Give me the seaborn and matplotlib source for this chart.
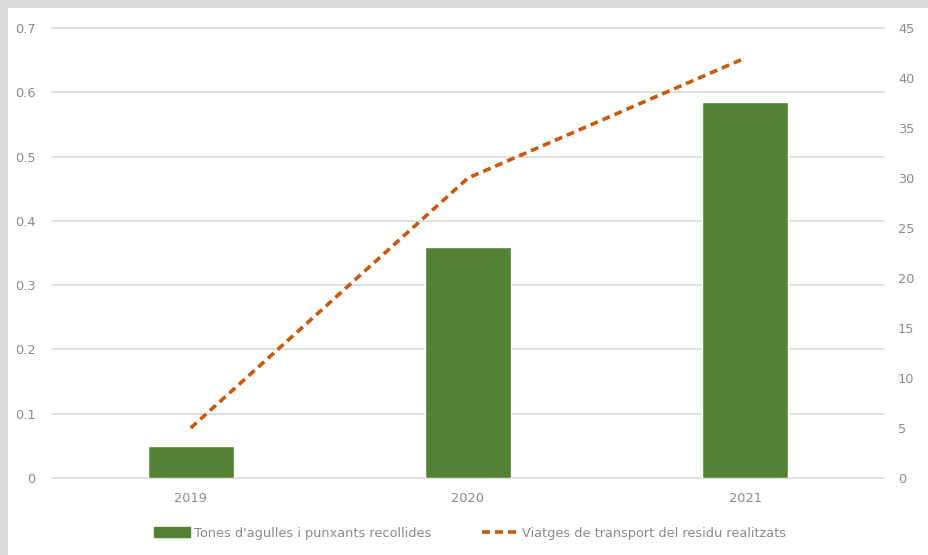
import pandas as pd
import seaborn as sns
import matplotlib.pyplot as plt
from matplotlib.patches import Rectangle
from matplotlib.lines import Line2D

years = ["2019", "2020", "2021"]
tones = [0.05, 0.36, 0.585]
viatges = [5, 30, 42]
bar_label = "Tones d'agulles i punxants recollides"
line_label = "Viatges de transport del residu realitzats"

df = pd.DataFrame({"any": years, "tones": tones, "viatges": viatges})

sns.set_style("white")
plt.rcParams["font.family"] = ["DejaVu Sans"]

fig = plt.figure(figsize=(9.29, 5.55), dpi=100)
fig.patch.set_facecolor("white")
# gray strip on top and left
fig.patches.append(Rectangle((0, 1 - 8 / 555), 1, 8 / 555, transform=fig.transFigure,
                             facecolor="#d9d9d9", edgecolor="none"))
fig.patches.append(Rectangle((0, 0), 8 / 929, 1, transform=fig.transFigure,
                             facecolor="#d9d9d9", edgecolor="none"))

ax = fig.add_axes([52 / 929, 77 / 555, 832 / 929, 450 / 555])
ax.set_facecolor("none")
sns.barplot(data=df, x="any", y="tones", color="#548235", saturation=1, width=0.31, ax=ax, zorder=3)
ax.set_ylim(0, 0.7)
ax.set_yticks([0, 0.1, 0.2, 0.3, 0.4, 0.5, 0.6, 0.7])
ax.set_yticklabels(["0", "0.1", "0.2", "0.3", "0.4", "0.5", "0.6", "0.7"])
ax.grid(axis="y", color="#d9d9d9", linewidth=1.2, zorder=0)
ax.set_axisbelow(True)
for gl in ax.get_ygridlines():
    gl.set_clip_on(False)
ax.set_xlabel("")
ax.set_ylabel("")

ax2 = ax.twinx()
sns.lineplot(data=df, x="any", y="viatges", color="#c55a11", linewidth=2.6, ax=ax2, sort=False)
ax2.lines[0].set_dashes([2.2, 1.4])
ax2.set_ylim(0, 45)
ax2.set_yticks(range(0, 50, 5))
ax2.set_ylabel("")
ax2.set_xlabel("")
ax.set_xlim(-0.5, 2.5)

for a in (ax, ax2):
    for s in a.spines.values():
        s.set_visible(False)
    a.tick_params(length=0, labelsize=9.3, labelcolor="#8a8a8a")
ax.tick_params(axis="y", pad=12)
ax.tick_params(axis="x", pad=10)
ax2.tick_params(axis="y", pad=10)

handles = [Rectangle((0, 0), 1, 1, color="#548235"),
           Line2D([0], [0], color="#c55a11", linewidth=2.6, dashes=[2.2, 1.4])]
fig.legend(handles, [bar_label, line_label], loc="center", bbox_to_anchor=(470 / 929, 1 - 533 / 555),
           ncol=2, frameon=False, fontsize=9.3, labelcolor="#8a8a8a", handlelength=2.8,
           handletextpad=0.3, columnspacing=3.9)

fig.savefig("out.png", dpi=100, facecolor=fig.get_facecolor())
